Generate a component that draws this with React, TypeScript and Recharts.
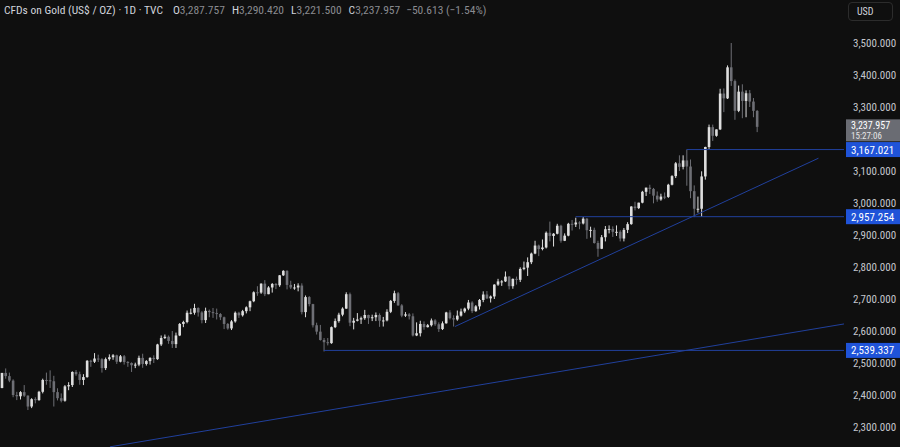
import React from 'react';
import { ComposedChart, Bar, XAxis, YAxis, ReferenceLine } from 'recharts';

// ---------- data ----------
const months: [string, number[]][] = [
  ['Jul', [16, 17, 18, 19, 22, 23, 24, 25, 26, 29, 30, 31]],
  ['Aug', [1, 2, 5, 6, 7, 8, 9, 12, 13, 14, 15, 16, 19, 20, 21, 22, 23, 26, 27, 28, 29, 30]],
  ['Sep', [2, 3, 4, 5, 6, 9, 10, 11, 12, 13, 16, 17, 18, 19, 20, 23, 24, 25, 26, 27, 30]],
  ['Oct', [1, 2, 3, 4, 7, 8, 9, 10, 11, 14, 15, 16, 17, 18, 21, 22, 23, 24, 25, 28, 29, 30, 31]],
  ['Nov', [1, 4, 5, 6, 7, 8, 11, 12, 13, 14, 15, 18, 19, 20, 21, 22, 25, 26, 27, 28, 29]],
  ['Dec', [2, 3, 4, 5, 6, 9, 10, 11, 12, 13, 16, 17, 18, 19, 20, 23, 24, 26, 27, 30, 31]],
  ['Jan', [2, 3, 6, 7, 8, 9, 10, 13, 14, 15, 16, 17, 20, 21, 22, 23, 24, 27, 28, 29, 30, 31]],
  ['Feb', [3, 4, 5, 6, 7, 10, 11, 12, 13, 14, 17, 18, 19, 20, 21, 24, 25, 26, 27, 28]],
  ['Mar', [3, 4, 5, 6, 7, 10, 11, 12, 13, 14, 17, 18, 19, 20, 21, 24, 25, 26, 27, 28, 31]],
  ['Apr', [1, 2, 3, 4, 7, 8, 9, 10, 11, 14, 15, 16, 17, 21, 22, 23, 24, 25, 28, 29, 30]],
  ['May', [1]],
];
const dates: string[] = months.flatMap(([m, ds]) => ds.map((d) => `${m} ${d}`));

const opens = [
  2422, 2469, 2459, 2445, 2400, 2396, 2409, 2398, 2364, 2387, 2384, 2410,
  2447, 2446, 2443, 2409, 2390, 2382, 2427, 2431, 2472, 2465, 2447, 2456, 2507, 2504, 2514, 2512, 2484, 2512, 2518, 2524, 2504, 2521,
  2503, 2500, 2493, 2495, 2516, 2497, 2506, 2516, 2512, 2558, 2578, 2582, 2569, 2559, 2586, 2622, 2628, 2657, 2657, 2672, 2658,
  2634, 2663, 2659, 2656, 2653, 2643, 2622, 2608, 2630, 2657, 2649, 2662, 2674, 2693, 2721, 2720, 2748, 2715, 2736, 2747, 2743, 2774, 2788,
  2744, 2736, 2736, 2742, 2659, 2706, 2684, 2618, 2598, 2572, 2565, 2562, 2612, 2631, 2651, 2670, 2715, 2626, 2632, 2636, 2640,
  2650, 2640, 2643, 2650, 2632, 2633, 2660, 2694, 2718, 2680, 2648, 2652, 2646, 2586, 2593, 2622, 2612, 2618, 2633, 2621, 2606,
  2624, 2658, 2640, 2636, 2648, 2661, 2670, 2689, 2662, 2677, 2697, 2714, 2702, 2708, 2745, 2755, 2755, 2770, 2740, 2763, 2760, 2794,
  2798, 2815, 2842, 2867, 2856, 2861, 2907, 2897, 2904, 2929, 2882, 2898, 2935, 2933, 2939, 2936, 2951, 2915, 2916, 2875,
  2857, 2893, 2918, 2919, 2910, 2910, 2889, 2916, 2934, 2989, 2984, 3001, 3035, 3048, 3044, 3023, 3011, 3020, 3019, 3057, 3084,
  3124, 3113, 3133, 3114, 3037, 2982, 2982, 3083, 3175, 3237, 3210, 3230, 3342, 3327, 3424, 3381, 3288, 3348, 3319, 3343, 3317,
  3287.757,
];
const highs = [
  2469, 2483, 2470, 2449, 2410, 2412, 2431, 2399, 2390, 2393, 2413, 2451,
  2470, 2477, 2460, 2421, 2405, 2431, 2440, 2474, 2478, 2473, 2465, 2509, 2510, 2531, 2526, 2515, 2517, 2527, 2528, 2526, 2525, 2525,
  2506, 2502, 2501, 2523, 2529, 2509, 2518, 2524, 2560, 2586, 2589, 2586, 2600, 2595, 2625, 2632, 2664, 2670, 2685, 2674, 2662,
  2673, 2667, 2672, 2670, 2656, 2645, 2625, 2634, 2661, 2660, 2666, 2677, 2695, 2724, 2740, 2749, 2759, 2740, 2750, 2750, 2775, 2790, 2790,
  2757, 2747, 2749, 2749, 2711, 2709, 2685, 2626, 2619, 2578, 2578, 2614, 2639, 2657, 2674, 2721, 2720, 2641, 2656, 2645, 2666,
  2651, 2651, 2658, 2655, 2644, 2668, 2697, 2726, 2722, 2684, 2659, 2656, 2655, 2627, 2632, 2630, 2622, 2639, 2637, 2627, 2630,
  2660, 2665, 2649, 2664, 2670, 2673, 2697, 2693, 2681, 2700, 2724, 2725, 2711, 2746, 2763, 2759, 2786, 2772, 2764, 2770, 2799, 2817,
  2830, 2845, 2882, 2870, 2886, 2911, 2942, 2906, 2935, 2932, 2905, 2938, 2947, 2954, 2943, 2956, 2953, 2926, 2923, 2882,
  2900, 2928, 2930, 2927, 2930, 2915, 2922, 2940, 2990, 3004, 3001, 3038, 3048, 3057, 3047, 3036, 3029, 3033, 3060, 3087, 3128,
  3149, 3149, 3167, 3136, 3055, 3020, 3099, 3176, 3245, 3245, 3230, 3357, 3358, 3430, 3500, 3386, 3367, 3371, 3352, 3353, 3328,
  3290.42,
];
const lows = [
  2421, 2451, 2440, 2393, 2384, 2386, 2394, 2353, 2359, 2374, 2382, 2405,
  2432, 2422, 2364, 2383, 2377, 2379, 2415, 2425, 2460, 2432, 2431, 2454, 2488, 2500, 2503, 2470, 2478, 2507, 2510, 2497, 2502, 2495,
  2488, 2472, 2484, 2490, 2485, 2492, 2495, 2500, 2510, 2553, 2575, 2560, 2547, 2547, 2584, 2612, 2624, 2652, 2651, 2645, 2624,
  2625, 2643, 2641, 2636, 2634, 2606, 2604, 2603, 2626, 2641, 2645, 2655, 2662, 2690, 2710, 2716, 2709, 2715, 2720, 2731, 2738, 2772, 2730,
  2731, 2729, 2724, 2652, 2643, 2677, 2611, 2589, 2570, 2536, 2555, 2560, 2609, 2626, 2646, 2669, 2615, 2605, 2630, 2622, 2635,
  2622, 2631, 2631, 2613, 2614, 2630, 2656, 2688, 2679, 2643, 2644, 2636, 2583, 2584, 2583, 2604, 2611, 2614, 2616, 2597, 2603,
  2623, 2636, 2614, 2632, 2645, 2656, 2665, 2656, 2660, 2667, 2690, 2700, 2689, 2700, 2741, 2741, 2753, 2730, 2732, 2745, 2753, 2790,
  2772, 2809, 2840, 2834, 2852, 2858, 2880, 2864, 2902, 2876, 2881, 2896, 2914, 2925, 2918, 2933, 2888, 2892, 2873, 2832,
  2856, 2880, 2905, 2894, 2897, 2880, 2880, 2906, 2932, 2977, 2981, 2999, 3022, 3028, 2999, 3004, 3007, 3012, 3016, 3055, 3078,
  3100, 3105, 3054, 3015, 2956, 2970, 2957, 3073, 3169, 3194, 3207, 3228, 3284, 3325, 3366, 3260, 3284, 3265, 3268, 3300, 3268,
  3221.5,
];
const closes = [
  2469, 2459, 2445, 2400, 2396, 2409, 2398, 2364, 2387, 2384, 2410, 2447,
  2446, 2443, 2409, 2390, 2382, 2427, 2431, 2472, 2465, 2447, 2456, 2507, 2504, 2514, 2512, 2484, 2512, 2518, 2524, 2504, 2521, 2503,
  2500, 2493, 2495, 2516, 2497, 2506, 2516, 2512, 2558, 2578, 2582, 2569, 2559, 2586, 2622, 2628, 2657, 2657, 2672, 2658, 2634,
  2663, 2659, 2656, 2653, 2643, 2622, 2608, 2630, 2657, 2649, 2662, 2674, 2693, 2721, 2720, 2748, 2715, 2736, 2747, 2743, 2774, 2788, 2744,
  2736, 2736, 2742, 2659, 2706, 2684, 2618, 2598, 2572, 2565, 2562, 2612, 2631, 2651, 2670, 2715, 2626, 2632, 2636, 2640, 2650,
  2640, 2643, 2650, 2632, 2633, 2660, 2694, 2718, 2680, 2648, 2652, 2646, 2586, 2593, 2622, 2612, 2618, 2633, 2621, 2606, 2624,
  2658, 2640, 2636, 2648, 2661, 2670, 2689, 2662, 2677, 2697, 2714, 2702, 2708, 2745, 2755, 2755, 2770, 2740, 2763, 2760, 2794, 2798,
  2815, 2842, 2867, 2856, 2861, 2907, 2897, 2904, 2929, 2882, 2898, 2935, 2933, 2939, 2936, 2951, 2915, 2916, 2875, 2857,
  2893, 2918, 2919, 2910, 2910, 2889, 2916, 2934, 2989, 2984, 3001, 3035, 3048, 3044, 3023, 3011, 3020, 3019, 3057, 3084, 3124,
  3113, 3133, 3114, 3037, 2982, 2982, 3083, 3175, 3237, 3210, 3230, 3342, 3327, 3424, 3381, 3288, 3348, 3319, 3343, 3317, 3288,
  3237.957,
];

const FUTURE_SLOTS = 23; // empty days to the right of the last candle
const yTicks = [2300, 2400, 2500, 2600, 2700, 2800, 2900, 3000, 3100, 3300, 3400, 3500];
const levels = [
  { price: 3167.021, from: 'Apr 3' },
  { price: 2957.254, from: 'Feb 20' },
  { price: 2539.337, from: 'Nov 14' },
];
// trend lines as [slot index, price] pairs
const trendA = [[122.4, 2614], [220.6, 3140]];
const trendB = [[29.2, 2238], [227.5, 2622]];
const lastPrice = 3237.957;
const countdown = '15:27:06';
const changeText = '−50.613 (−1.54%)';

// ---------- chart ----------
const W = 900;
const H = 447;
const Y_MIN = 2237.5;
const Y_MAX = 3634.4;
const slots = dates.length + FUTURE_SLOTS;

const rows = Array.from({ length: slots }, (_, i) =>
  i < dates.length
    ? { i, date: dates[i], o: opens[i], h: highs[i], l: lows[i], c: closes[i] }
    : { i, date: '', o: null, h: null, l: null, c: null }
);

const FONT = "'Liberation Sans Narrow', 'Roboto Condensed', 'DejaVu Sans Condensed', 'Liberation Sans', sans-serif";
const UP = '#dedede';
const DOWN = '#6e6f75';
const LINE = '#21409c';
const BOX = '#1f53d8';

const Candle = (props: any) => {
  const { x, y, width, height, payload } = props;
  if (!payload || payload.o == null) return null;
  const { o, h, l, c } = payload;
  const top = Math.min(y, y + height);
  const bot = Math.max(y, y + height);
  const span = h - l;
  const k = span > 0 ? (bot - top) / span : 0;
  const cx = x + width / 2;
  const color = c >= o ? UP : DOWN;
  const bTop = top + (h - Math.max(o, c)) * k;
  const bBot = top + (h - Math.min(o, c)) * k;
  const bw = 2.6;
  return (
    <g>
      <line x1={cx} x2={cx} y1={top} y2={bot} stroke={color} strokeWidth={1} />
      <rect x={cx - bw / 2} y={bTop} width={bw} height={Math.max(1, bBot - bTop)} fill={color} />
    </g>
  );
};

const fmt = (v: number) =>
  v.toLocaleString('en-US', { minimumFractionDigits: 3, maximumFractionDigits: 3 });

const levelLabel = (price: number) => (p: any) => {
  const vb = p.viewBox || {};
  const x = (vb.x || 0) + (vb.width || 0) + 2;
  const y = vb.y || 0;
  return (
    <g>
      <rect x={x} y={y - 7.5} width={56} height={15} fill={BOX} />
      <text x={x + 5} y={y + 4} fill="#ffffff" fontSize={11} fontFamily={FONT}>
        {fmt(price)}
      </text>
    </g>
  );
};

const lastLabel = (p: any) => {
  const vb = p.viewBox || {};
  const x = (vb.x || 0) + (vb.width || 0) + 2;
  const y = vb.y || 0;
  return (
    <g>
      <rect x={x} y={y - 7.5} width={56} height={22} fill="#6a6c73" />
      <text x={x + 5} y={y + 2.5} fill="#ffffff" fontSize={10} fontFamily={FONT}>
        {fmt(lastPrice)}
      </text>
      <text x={x + 5} y={y + 12} fill="#e6e6e6" fontSize={9} fontFamily={FONT}>
        {countdown}
      </text>
    </g>
  );
};

export default function App() {
  const grey = '#8a8b90';
  const light = '#d1d4dc';
  return (
    <div
      style={{
        position: 'absolute',
        left: 0,
        top: 0,
        width: W,
        height: H,
        background: '#0f0f0f',
        overflow: 'hidden',
      }}
    >
      <ComposedChart
        width={W}
        height={H}
        data={rows}
        margin={{ top: 0, right: 0, bottom: 0, left: 0 }}
        barCategoryGap={0}
      >
        <XAxis xAxisId="c" dataKey="i" type="category" hide />
        <XAxis
          xAxisId="n"
          dataKey="i"
          type="number"
          domain={[-0.5, slots - 0.5]}
          allowDataOverflow
          hide
        />
        <YAxis
          yAxisId="p"
          orientation="right"
          width={56}
          domain={[Y_MIN, Y_MAX]}
          allowDataOverflow
          ticks={yTicks}
          tickFormatter={(v: number) => fmt(v)}
          axisLine={false}
          tickLine={false}
          tickSize={0}
          tickMargin={9}
          tick={{ fill: '#c4c6cc', fontSize: 11, fontFamily: FONT }}
        />
        {levels.map((lv) => (
          <ReferenceLine
            key={lv.price}
            xAxisId="n"
            yAxisId="p"
            segment={[
              { x: dates.indexOf(lv.from), y: lv.price },
              { x: slots - 0.5, y: lv.price },
            ]}
            stroke={LINE}
            strokeWidth={1}
            label={levelLabel(lv.price)}
          />
        ))}
        <ReferenceLine
          xAxisId="n"
          yAxisId="p"
          segment={[
            { x: trendA[0][0], y: trendA[0][1] },
            { x: trendA[1][0], y: trendA[1][1] },
          ]}
          stroke={LINE}
          strokeWidth={1}
        />
        <ReferenceLine
          xAxisId="n"
          yAxisId="p"
          segment={[
            { x: trendB[0][0], y: trendB[0][1] },
            { x: trendB[1][0], y: trendB[1][1] },
          ]}
          stroke={LINE}
          strokeWidth={1}
        />
        <Bar
          xAxisId="c"
          yAxisId="p"
          dataKey={(d: any) => (d.o == null ? null : [d.l, d.h])}
          shape={<Candle />}
          isAnimationActive={false}
        />
        <ReferenceLine
          xAxisId="n"
          yAxisId="p"
          y={lastPrice}
          stroke="transparent"
          label={lastLabel}
        />
      </ComposedChart>

      <div
        style={{
          position: 'absolute',
          left: 4,
          top: 3,
          fontFamily: FONT,
          fontSize: 11.5,
          color: light,
          whiteSpace: 'nowrap',
          lineHeight: '14px',
        }}
      >
        <span>CFDs on Gold (US$ / OZ) · 1D · TVC</span>
        <span style={{ marginLeft: 10 }}>O</span>
        <span style={{ color: grey }}>{fmt(opens[opens.length - 1])}</span>
        <span style={{ marginLeft: 7 }}>H</span>
        <span style={{ color: grey }}>{fmt(highs[highs.length - 1])}</span>
        <span style={{ marginLeft: 7 }}>L</span>
        <span style={{ color: grey }}>{fmt(lows[lows.length - 1])}</span>
        <span style={{ marginLeft: 7 }}>C</span>
        <span style={{ color: grey }}>{fmt(closes[closes.length - 1])}</span>
        <span style={{ color: grey, marginLeft: 6 }}>{changeText}</span>
      </div>

      <div
        style={{
          position: 'absolute',
          left: 848,
          top: 2,
          width: 45,
          height: 19,
          border: '1px solid #2c2c2c',
          borderRadius: 4,
          boxSizing: 'border-box',
          fontFamily: FONT,
          fontSize: 10,
          color: light,
          lineHeight: '17px',
          paddingLeft: 8,
        }}
      >
        USD
      </div>
    </div>
  );
}
